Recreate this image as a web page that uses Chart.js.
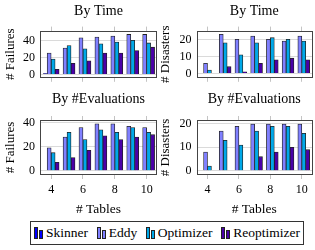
<!DOCTYPE html>
<html><head><meta charset="utf-8">
<script src="https://cdn.jsdelivr.net/npm/chart.js@4/dist/chart.umd.min.js"></script>
<style>
html,body{margin:0;padding:0;background:#fff;width:315px;height:250px;overflow:hidden;font-family:"Liberation Serif",serif;}
canvas{position:absolute;}
#legend{position:absolute;left:30px;top:221px;width:274px;height:24px;border:1px solid #333;box-sizing:border-box;display:flex;align-items:center;justify-content:space-between;padding:0 3px 0 3px;font-size:13.5px;color:#000;white-space:nowrap;}
.item{display:flex;align-items:center;}
.ico{display:flex;align-items:flex-end;height:11px;margin-right:2px;}
.ico span{display:inline-block;width:2px;border:1px solid #222;margin-right:1px;}
</style></head><body>
<canvas id="c1" width="158" height="90" style="left:0;top:0;width:158px;height:90px"></canvas>
<canvas id="c2" width="158" height="90" style="left:155px;top:0;width:158px;height:90px"></canvas>
<canvas id="c3" width="158" height="130" style="left:0;top:88px;width:158px;height:130px"></canvas>
<canvas id="c4" width="158" height="130" style="left:155px;top:88px;width:158px;height:130px"></canvas>
<div id="legend"></div>
<script>
// ---- data ----
const tables = [4, 5, 6, 7, 8, 9, 10];
const xTickValues = [4, 6, 8, 10];
const seriesNames = ['Skinner', 'Eddy', 'Optimizer', 'Reoptimizer'];
const seriesColors = ['#0000ff', '#8080ff', '#00a8e8', '#4a00a8'];

// By Time – failures
const timeFailSkinner     = [1, 0, 0, 0, 0, 0, 0];
const timeFailEddy        = [25, 31, 43, 44, 45, 47, 47];
const timeFailOptimizer   = [18, 34, 30, 36, 38, 40, 37];
const timeFailReoptimizer = [6, 13, 16, 25, 25, 28, 32];
// By Time – disasters
const timeDisSkinner     = [0, 0, 0, 0, 0, 0, 0];
const timeDisEddy        = [6, 23, 20, 22, 20, 19, 22];
const timeDisOptimizer   = [2, 18, 11, 18, 21, 20, 19];
const timeDisReoptimizer = [0, 4, 1, 6, 8, 9, 8];
// By #Evaluations – failures
const evalFailSkinner     = [0, 0, 0, 0, 0, 0, 0];
const evalFailEddy        = [19, 28, 36, 39, 39, 37, 36];
const evalFailOptimizer   = [15, 32, 26, 34, 32, 36, 32];
const evalFailReoptimizer = [7, 11, 17, 29, 26, 28, 30];
// By #Evaluations – disasters
const evalDisSkinner     = [0, 0, 0, 0, 0, 0, 0];
const evalDisEddy        = [8, 17, 19, 20, 20, 20, 20];
const evalDisOptimizer   = [2, 13, 11, 17, 19, 19, 16];
const evalDisReoptimizer = [0, 0, 0, 6, 8, 10, 9];

const failTicks = [0, 20, 40];
const disTicks = [0, 10, 20];

const FONT = 'Liberation Serif';

const boxPlugin = {
  id: 'box',
  afterDatasetsDraw(chart) {
    const a = chart.chartArea, ctx = chart.ctx;
    ctx.save();
    ctx.strokeStyle = '#444';
    ctx.lineWidth = 1;
    ctx.strokeRect(Math.round(a.left) + 0.5, Math.round(a.top) + 0.5,
      Math.round(a.right - a.left) - 1, Math.round(a.bottom - a.top) - 1);
    ctx.restore();
  }
};

function makeChart(id, o) {
  const sets = [o.s, o.e, o.o, o.r];
  new Chart(document.getElementById(id), {
    type: 'bar',
    data: {
      datasets: sets.map((vals, i) => ({
        label: seriesNames[i],
        data: tables.map((t, j) => ({x: t, y: vals[j]})),
        backgroundColor: seriesColors[i],
        borderColor: '#202020',
        borderWidth: 0.8,
        categoryPercentage: 1.0,
        barPercentage: 1.0,
        xAxisID: 'x', yAxisID: 'y'
      }))
    },
    options: {
      responsive: false, animation: false, devicePixelRatio: 1,
      layout: {padding: {left: 0, right: 1, top: 0, bottom: 0}},
      plugins: {
        legend: {display: false}, tooltip: {enabled: false},
        title: {display: true, text: o.title, fullSize: false, color: '#000',
          font: {family: FONT, size: 14, weight: 'normal', lineHeight: 1.2},
          padding: {top: o.tpt, bottom: o.tpb}}
      },
      scales: {
        x: {
          type: 'linear', position: 'bottom', min: 3.3, max: 10.65, offset: false,
          afterBuildTicks: s => { s.ticks = xTickValues.map(v => ({value: v})); },
          afterFit: s => { s.height = o.xh; },
          ticks: {display: o.xlabels, color: '#000', padding: 4, font: {family: FONT, size: 12}},
          grid: {drawOnChartArea: false, drawTicks: true, tickLength: 4, color: '#c4c4c4', offset: false},
          border: {display: false},
          title: {display: o.xlabels, text: '# Tables', color: '#000', padding: {top: 0, bottom: 0},
            font: {family: FONT, size: 13.5, lineHeight: 1.2}}
        },
        x2: {
          type: 'linear', position: 'top', min: 3.3, max: 10.65, offset: false,
          afterBuildTicks: s => { s.ticks = xTickValues.map(v => ({value: v})); },
          afterFit: s => { s.height = 4; },
          ticks: {display: false},
          grid: {drawOnChartArea: false, drawTicks: true, tickLength: 4, color: '#c4c4c4', offset: false},
          border: {display: false}
        },
        y: {
          type: 'linear', min: o.ymin, max: o.ymax,
          afterBuildTicks: s => { s.ticks = o.yt.map(v => ({value: v})); },
          afterFit: s => { s.width = o.yw; },
          ticks: {color: '#000', padding: 5, font: {family: FONT, size: 12}},
          grid: {drawTicks: false, color: '#dadada'},
          border: {display: false},
          title: {display: true, text: o.ylabel, color: '#000', padding: {top: 3, bottom: 0},
            font: {family: FONT, size: 13, lineHeight: 1.2}}
        }
      }
    },
    plugins: [boxPlugin]
  });
}

makeChart('c1', {title: 'By Time', tpt: 3.4, tpb: 6.4, xh: 4, xlabels: false, yw: 40,
  ymin: -4, ymax: 51.5, yt: failTicks, ylabel: '# Failures',
  s: timeFailSkinner, e: timeFailEddy, o: timeFailOptimizer, r: timeFailReoptimizer});
makeChart('c2', {title: 'By Time', tpt: 3.4, tpb: 6.4, xh: 4, xlabels: false, yw: 41.5,
  ymin: -2.5, ymax: 25.15, yt: disTicks, ylabel: '# Disasters',
  s: timeDisSkinner, e: timeDisEddy, o: timeDisOptimizer, r: timeDisReoptimizer});
makeChart('c3', {title: 'By #Evaluations', tpt: 2.6, tpb: 8.6, xh: 43, xlabels: true, yw: 40,
  ymin: -3.6, ymax: 42.25, yt: failTicks, ylabel: '# Failures',
  s: evalFailSkinner, e: evalFailEddy, o: evalFailOptimizer, r: evalFailReoptimizer});
makeChart('c4', {title: 'By #Evaluations', tpt: 2.6, tpb: 8.6, xh: 43, xlabels: true, yw: 41.5,
  ymin: -1.84, ymax: 21.7, yt: disTicks, ylabel: '# Disasters',
  s: evalDisSkinner, e: evalDisEddy, o: evalDisOptimizer, r: evalDisReoptimizer});

// legend
const leg = document.getElementById('legend');
seriesNames.forEach((n, i) => {
  const it = document.createElement('div'); it.className = 'item';
  const ico = document.createElement('span'); ico.className = 'ico';
  [10, 7].forEach(h => {
    const b = document.createElement('span');
    b.style.height = h + 'px'; b.style.background = seriesColors[i];
    ico.appendChild(b);
  });
  const t = document.createElement('span'); t.textContent = n;
  it.appendChild(ico); it.appendChild(t); leg.appendChild(it);
});
</script>
</body></html>
